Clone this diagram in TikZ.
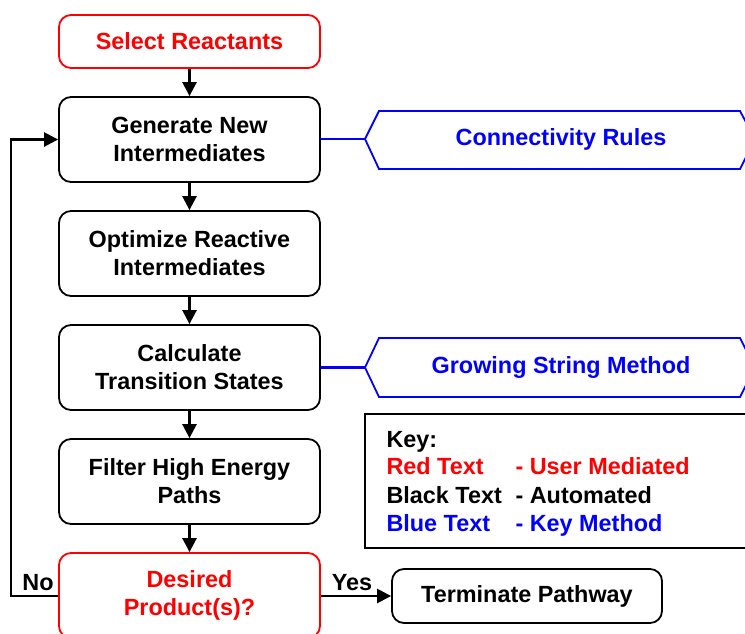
\documentclass[tikz,border=0pt]{standalone}
\usepackage{fontspec}
\setmainfont{Liberation Sans}
\usetikzlibrary{arrows.meta}
\definecolor{ured}{RGB}{255,0,0}
\definecolor{ublue}{RGB}{0,0,255}
\begin{document}
\begin{tikzpicture}[x=1pt,y=-1pt,
  txt/.style={font=\bfseries\fontsize{23.4}{28}\selectfont},
  box/.style={txt, draw=black, line width=1.8pt, rounded corners=12pt, fill=white,
    align=center, minimum width=261pt, minimum height=85pt, inner sep=0pt},
  redbox/.style={box, draw=ured, text=ured},
  flow/.style={line width=2.5pt, -{Triangle[length=14pt,width=14pt]}},
  bluelink/.style={color=ublue, line width=2.2pt},
  hexa/.style={color=ublue, line width=1.8pt},
  keyrow/.style={txt, anchor=base west},
]
\useasboundingbox (0,0) rectangle (745,633);
\clip (0,0) rectangle (745,633);

% main column
\node[redbox, minimum height=53pt] (sel) at (189.5,41.5) {Select Reactants};
\node[box] (gen) at (189.5,139.5) {Generate New\\Intermediates};
\node[box] (opt) at (189.5,253.5) {Optimize Reactive\\Intermediates};
\node[box] (ts)  at (189.5,367.5) {Calculate\\Transition States};
\node[box] (fil) at (189.5,481.5) {Filter High Energy\\Paths};
\node[redbox] (des) at (189.5,595.5) {Desired\\Product(s)?};
\node[box, minimum width=270pt, minimum height=54pt] (term) at (527,596) {Terminate Pathway};

\draw[flow] (sel) -- (gen);
\draw[flow] (gen) -- (opt);
\draw[flow] (opt) -- (ts);
\draw[flow] (ts) -- (fil);
\draw[flow] (fil) -- (des);
\draw[flow] (des.east |- term.west) -- (term.west);
\draw[flow] (des.west |- term.west) -- ++(-47,0) |- (gen.west);

\node[txt, anchor=center] (no) at (38,583) {No};
\node[txt, anchor=center] (yes) at (352,583) {Yes};

% hexagons
\coordinate (hx1) at (365,139);
\draw[hexa] (hx1) -- (379,111) -- (740,111) -- (755,139) -- (740,169) -- (379,169) -- cycle;
\node[txt, text=ublue] (cr) at (561,139) {Connectivity Rules};
\draw[bluelink] (gen.east |- hx1) -- (hx1);

\coordinate (hx2) at (365,367.5);
\draw[hexa] (hx2) -- (379,338) -- (740,338) -- (755,367.5) -- (740,397) -- (379,397) -- cycle;
\node[txt, text=ublue] (gsm) at (561,367.5) {Growing String Method};
\draw[bluelink] (ts.east |- hx2) -- (hx2);

% key
\draw[line width=1.8pt] (365,414) rectangle (760,548);
\node[keyrow] (key) at (383,447) {Key:};
\node[keyrow, text=ured] (k1a) at (383,474) {Red Text};
\node[keyrow, text=ured] (k1b) at (512,474) {- User Mediated};
\node[keyrow] (k2a) at (383,503) {Black Text};
\node[keyrow] (k2b) at (512,503) {- Automated};
\node[keyrow, text=ublue] (k3a) at (383,531) {Blue Text};
\node[keyrow, text=ublue] (k3b) at (512,531) {- Key Method};
\end{tikzpicture}
\end{document}
